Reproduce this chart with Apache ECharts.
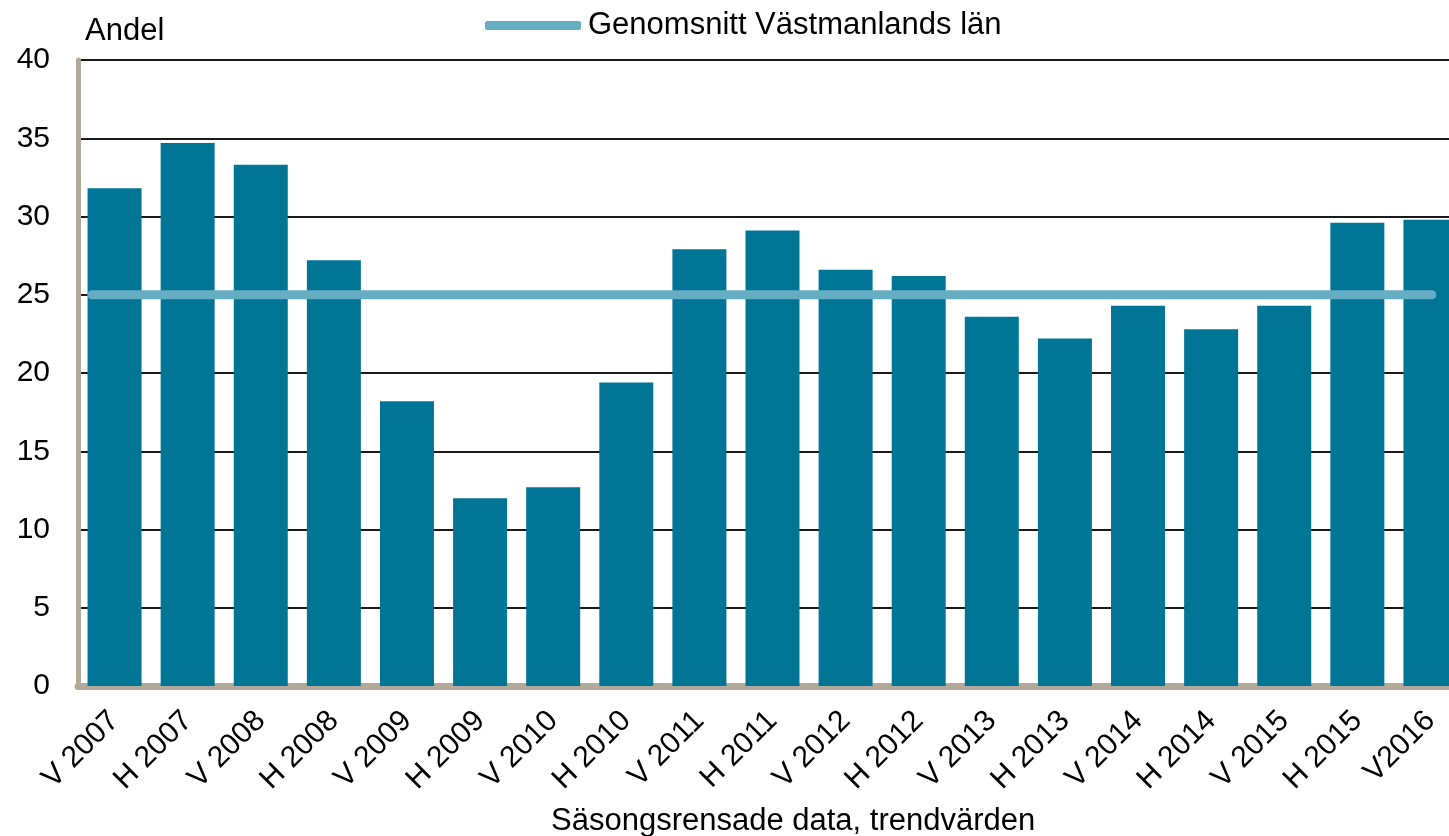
<!DOCTYPE html>
<html>
<head>
<meta charset="utf-8">
<script src="https://cdn.jsdelivr.net/npm/echarts@6/dist/echarts.min.js"></script>
<style>
  html, body { margin: 0; padding: 0; background: #fff; overflow: hidden; }
  /* the plot runs a little past the right edge of the picture, as in the original */
  #chart { width: 1467px; height: 836px; }
</style>
</head>
<body>
<div id="chart"></div>
<script>
var categories = ['V 2007', 'H 2007', 'V 2008', 'H 2008', 'V 2009', 'H 2009', 'V 2010', 'H 2010',
  'V 2011', 'H 2011', 'V 2012', 'H 2012', 'V 2013', 'H 2013', 'V 2014', 'H 2014', 'V 2015', 'H 2015', 'V2016'];
var andel = [31.8, 34.7, 33.3, 27.2, 18.2, 12.0, 12.7, 19.4, 27.9, 29.1, 26.6, 26.2, 23.6, 22.2, 24.3, 22.8, 24.3, 29.6, 29.8];
var averageValue = 25;
var averageSpan = [0.19, 18.52]; // start / end of the average line, in category units
var yTicks = [0, 5, 10, 15, 20, 25, 30, 35, 40];

var font = '"Liberation Sans", Arial, sans-serif';
var chart = echarts.init(document.getElementById('chart'));

chart.setOption({
  animation: false,
  backgroundColor: '#fff',
  textStyle: { fontFamily: font },
  title: [
    { text: 'Andel', left: 80, top: 11, textStyle: { fontFamily: font, fontSize: 31, fontWeight: 'normal', color: '#000' } },
    { text: 'Säsongsrensade data, trendvärden', left: 546, top: 801, textStyle: { fontFamily: font, fontSize: 31, fontWeight: 'normal', color: '#000' } }
  ],
  legend: {
    left: 480,
    top: 5,
    itemWidth: 96,
    itemHeight: 9,
    itemGap: 6,
    textStyle: { fontFamily: font, fontSize: 31, color: '#000', padding: [0, 0, 0, 2] },
    data: [{ name: 'Genomsnitt Västmanlands län', icon: 'roundRect' }]
  },
  grid: { left: 78, right: 0, top: 60, bottom: 150, containLabel: false },
  xAxis: [
    {
      type: 'category',
      data: categories,
      axisLine: { show: true, lineStyle: { color: '#b3a999', width: 7 } },
      axisTick: { show: false },
      axisLabel: { rotate: 45, fontFamily: font, fontSize: 30, color: '#000', margin: 30, interval: 0 }
    },
    {
      type: 'value',
      min: 0,
      max: categories.length,
      show: false
    }
  ],
  yAxis: {
    type: 'value',
    min: yTicks[0],
    max: yTicks[yTicks.length - 1],
    interval: 5,
    axisLine: { show: true, lineStyle: { color: '#b3a999', width: 5 } },
    axisTick: { show: false },
    axisLabel: { fontFamily: font, fontSize: 30, color: '#000', margin: 28 },
    splitLine: { lineStyle: { color: '#1a1a1a', width: 2 } }
  },
  series: [
    {
      name: 'Andel',
      type: 'bar',
      xAxisIndex: 0,
      data: andel,
      barWidth: 54,
      itemStyle: { color: '#007596' },
      z: 2
    },
    {
      name: 'Genomsnitt Västmanlands län',
      type: 'line',
      xAxisIndex: 1,
      data: [[averageSpan[0], averageValue], [averageSpan[1], averageValue]],
      symbol: 'none',
      lineStyle: { color: '#65adc2', width: 9, cap: 'round' },
      itemStyle: { color: '#65adc2' },
      z: 3
    }
  ]
});
</script>
</body>
</html>
